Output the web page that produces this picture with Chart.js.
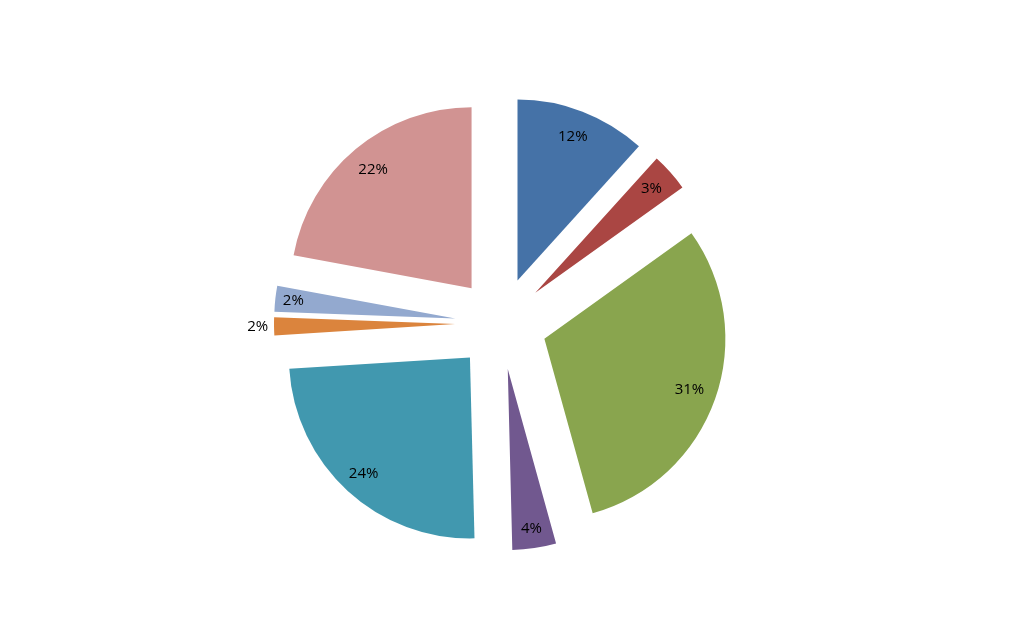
<!DOCTYPE html>
<html>
<head>
<meta charset="utf-8">
<script src="https://cdn.jsdelivr.net/npm/chart.js@4"></script>
<style>
  html, body { margin: 0; padding: 0; background: #ffffff; }
  #wrap { width: 1024px; height: 635px; position: relative; }
</style>
</head>
<body>
<div id="wrap"><canvas id="c"></canvas></div>
<script>
const categories = ['A', 'B', 'C', 'D', 'E', 'F', 'G', 'H'];
const values = [11.7, 3.4, 30.6, 3.9, 24.4, 1.6, 2.3, 22.1];
const percentLabels = ['12%', '3%', '31%', '4%', '24%', '2%', '2%', '22%'];
const colors = ['#4572A7', '#AA4643', '#89A54E', '#71588F', '#4198AF', '#DB843D', '#93A9CF', '#D19392'];

const explodePlugin = {
  id: 'explode',
  beforeDatasetDraw(chart, args, opts) {
    const ctx = chart.ctx;
    args.meta.data.forEach((arc) => {
      const mid = (arc.startAngle + arc.endAngle) / 2;
      ctx.save();
      ctx.translate(Math.cos(mid) * opts.distance, Math.sin(mid) * opts.distance);
      arc.draw(ctx, chart.chartArea);
      ctx.restore();
    });
    return false;
  },
  afterDatasetsDraw(chart, args, opts) {
    const ctx = chart.ctx;
    const meta = chart.getDatasetMeta(0);
    ctx.save();
    ctx.font = opts.font;
    ctx.fillStyle = opts.color;
    ctx.textAlign = 'center';
    ctx.textBaseline = 'middle';
    meta.data.forEach((arc, i) => {
      const mid = (arc.startAngle + arc.endAngle) / 2;
      const frac = opts.radial[i];
      const d = opts.distance + frac * arc.outerRadius;
      ctx.fillText(percentLabels[i], arc.x + Math.cos(mid) * d, arc.y + Math.sin(mid) * d);
    });
    ctx.restore();
  }
};

new Chart(document.getElementById('c'), {
  type: 'pie',
  data: {
    labels: categories,
    datasets: [{
      data: values,
      backgroundColor: colors,
      borderWidth: 0
    }]
  },
  options: {
    responsive: true,
    maintainAspectRatio: false,
    animation: false,
    radius: 181,
    layout: { padding: { left: 0, right: 22, top: 12, bottom: 0 } },
    plugins: {
      legend: { display: false },
      tooltip: { enabled: false },
      explode: {
        distance: 46,
        font: '15px "Open Sans", sans-serif',
        color: '#000000',
        radial: [0.85, 0.86, 0.85, 0.89, 0.87, 1.09, 0.9, 0.85]
      }
    }
  },
  plugins: [explodePlugin]
});
</script>
</body>
</html>
